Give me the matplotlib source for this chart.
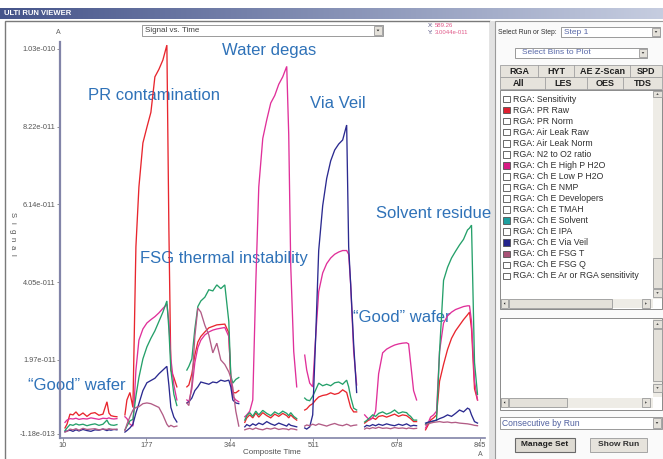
import numpy as np
import matplotlib
matplotlib.use('Agg')
import matplotlib.pyplot as plt
from matplotlib.patches import Rectangle, Polygon

plt.rcParams['font.family'] = ['Liberation Sans', 'DejaVu Sans']

# composite time at which each run starts, and sample offsets inside a run
run_start = [14, 134, 258, 374, 494, 614, 736]
offsets = [0, 4, 10, 16, 22, 28, 36, 44, 52, 60, 68, 76, 84, 88, 92, 98, 104]

# signal traces, units of 1e-12, one row per run
pr_raw = [
    [1.5, 2.5, 5.2, 5.0, 5.8, 4.8, 5.5, 4.6, 5.4, 5.6, 4.9, 5.2, 8.5, 5.5, 4.8, 4.6, 4.5],
    [5, 9, 11, 7, 50, 66, 77.8, 82, 86, 95.5, 97.5, 100, 104, 55, 17, 15, 12.5],
    [12.5, 13, 16, 21, 24.5, 26, 27.2, 28.3, 28.7, 29.1, 29.2, 29.3, 27, 14, 11, 10.9, 11.5],
    [3.0, 4.2, 5.0, 4.2, 5.5, 4.4, 5.6, 4.8, 4.2, 5.2, 4.6, 5.4, 4.8, 4.2, 5.0, 4.2, 3.6],
    [6.3, 6.6, 7.5, 8, 9, 9.8, 10.2, 10.4, 10.9, 10.5, 10.8, 11.7, 11, 9, 7, 5.8, 5.8],
    [2.8, 3.2, 3.8, 4.2, 3.8, 4.6, 4.8, 4.4, 4.8, 5.2, 4.6, 5.0, 4.8, 4.4, 4.0, 3.2, 3.2],
    [1.0, 2.0, 3.6, 4.2, 5, 14, 18.5, 22.5, 25.5, 27.5, 29, 30.5, 31.8, 32.5, 28, 12, 9],
]
high_p_h2o = [
    [3.0, 3.6, 4.0, 3.9, 4.1, 3.8, 4.0, 3.9, 4.2, 4.0, 3.8, 4.1, 4.0, 4.2, 4.0, 3.9, 4.0],
    [4.5, 4, 2.5, 2, 17, 25, 28, 29.6, 30.5, 31.3, 32.3, 33.5, 34.6, 30, 20, 13, 9],
    [9, 8.5, 12, 19, 23, 25, 26.4, 27.2, 27.7, 28, 28.2, 28.4, 26, 15.5, 10, 9, 8.5],
    [4.5, 5, 6, 9, 40, 66, 79, 84, 88.5, 90.5, 93.5, 95.5, 98.3, 80, 45, 22, 12.5],
    [21, 17, 13.5, 12.5, 26, 38, 43, 45.5, 47, 48, 48.6, 49, 49, 48, 40, 22, 13],
    [5, 4.4, 3.6, 4.2, 6, 16, 21.6, 22.6, 23.2, 23.7, 24, 24.2, 24.3, 24, 19, 11.5, 9],
    [1.5, 2.5, 4.4, 5, 6, 22, 29.6, 31.5, 32.5, 33.2, 33.6, 34, 34.2, 34.2, 30, 14, 9],
]
solvent = [
    [0.8, 1.5, 2.4, 2.2, 2.6, 2.3, 2.5, 2.1, 2.4, 2.6, 2.2, 2.5, 3.6, 2.6, 2.3, 2.2, 2.4],
    [1, 2, 3.4, 3.8, 10, 15, 20, 23.2, 25.5, 27.5, 30, 32.5, 35.5, 28, 17, 10.5, 7.5],
    [17, 18, 20, 28, 34, 35.5, 36.5, 38.5, 38.2, 39.8, 38.8, 39.8, 30, 15.5, 13.5, 14.5, 15],
    [3.6, 4.8, 5.6, 4.6, 6.0, 5.0, 6.2, 5.4, 4.8, 5.8, 5.2, 6.0, 5.4, 4.8, 5.6, 4.6, 4.0],
    [9.5, 9, 8.8, 10, 11.7, 13.5, 12.8, 13.2, 12.8, 13.6, 13.8, 13.2, 14.3, 12.5, 9.8, 6.8, 6.3],
    [3.1, 3.5, 4.2, 5.0, 4.6, 5.4, 5.8, 5.2, 5.6, 6.3, 5.4, 5.8, 5.6, 5.0, 4.6, 3.6, 3.6],
    [2.5, 2.9, 3.1, 3.3, 3.6, 22, 41, 44.5, 47, 48.8, 50.5, 52, 54.5, 55, 55.8, 19, 10.5],
]
via_veil = [
    [0.5, 0.7, 0.9, 0.6, 1.0, 0.7, 1.1, 0.8, 0.6, 1.0, 0.9, 1.2, 0.8, 1.0, 0.9, 1.1, 1.0],
    [0.4, 0.8, 1.5, 2.5, 5.5, 8, 11.5, 13.6, 14.2, 14.8, 16, 17, 18, 13, 7, 4.4, 3.1],
    [8.2, 8.5, 9.5, 11.5, 12.5, 13.8, 13.5, 13.2, 13.8, 13.6, 14.3, 14.0, 14.3, 12.5, 9.0, 8.2, 8],
    [1.8, 2.4, 2.0, 2.6, 2.2, 2.8, 2.4, 3.2, 2.6, 2.2, 2.8, 2.4, 2.0, 2.6, 2.2, 2.0, 1.8],
    [1.5, 1.2, 1.8, 5, 26, 49, 61, 68.3, 73, 75.9, 77.5, 78.6, 82.6, 50, 40, 24, 11],
    [1.8, 2.2, 2.0, 2.4, 2.1, 2.5, 2.2, 2.6, 2.3, 2.1, 2.5, 2.2, 2.6, 2.3, 2.0, 2.2, 2.1],
    [2.8, 3.0, 3.2, 3.4, 3.6, 4.0, 4.4, 5.0, 4.6, 5.4, 6.3, 5.8, 6.8, 6.5, 5.0, 3.2, 2.8],
]
fsg_t = [
    [0.4, 0.6, 1.2, 1.0, 1.3, 0.9, 1.4, 1.1, 1.2, 1.3, 1.0, 1.2, 1.1, 1.3, 1.2, 1.1, 1.2],
    [0.8, 2.5, 4.5, 6.3, 7, 7.2, 8, 8.2, 8, 7.5, 7, 5, 2.5, 1.8, 2.2, 1.8, 2],
    [8.2, 7.5, 13, 26, 33.6, 32.5, 29, 26.4, 21.6, 24.2, 19.7, 18.5, 16.5, 15, 12.3, 6, 2],
    [1.0, 1.2, 1.4, 1.1, 1.5, 1.2, 1.0, 1.4, 1.2, 1.5, 1.1, 1.3, 1.2, 1.0, 1.3, 1.2, 1.0],
    [2.0, 2.3, 2.1, 2.5, 2.2, 2.6, 2.3, 2.0, 2.4, 2.7, 2.3, 2.1, 2.5, 2.3, 2.0, 2.2, 2.3],
    [1.2, 1.5, 1.3, 1.6, 1.4, 1.7, 1.4, 1.5, 1.3, 1.6, 1.4, 1.5, 1.3, 1.5, 1.4, 1.3, 1.4],
    [2.3, 2.5, 2.8, 3.0, 3.1, 3.2, 3.0, 3.1, 2.9, 3.0, 2.8, 2.7, 2.6, 2.5, 2.4, 2.2, 2.1],
]

series = [pr_raw, high_p_h2o, solvent, via_veil, fsg_t]
line_colors = ['#e8262e', '#e0309a', '#25a06a', '#2b2a90', '#b25c86']

x_ticks = [10, 177, 344, 511, 678, 845]
y_ticks = [-0.118, 19.7, 40.5, 61.4, 82.2, 103.0]
y_tick_labels = ['-1.18e-013', '1.97e-011', '4.05e-011', '6.14e-011', '8.22e-011', '1.03e-010']

notes = [
    ('PR contamination', 88, 95),
    ('Water degas', 222, 51),
    ('Via Veil', 310, 103),
    ('Solvent residue', 376, 214),
    ('FSG thermal instability', 140, 258),
    ('\u201cGood\u201d wafer', 353, 318),
    ('\u201cGood\u201d wafer', 28, 385),
]

bins = ['RGA: Sensitivity', 'RGA: PR Raw', 'RGA: PR Norm', 'RGA: Air Leak Raw',
        'RGA: Air Leak Norm', 'RGA: N2 to O2 ratio', 'RGA: Ch E High P H2O',
        'RGA: Ch E Low P H2O', 'RGA: Ch E NMP', 'RGA: Ch E Developers',
        'RGA: Ch E TMAH', 'RGA: Ch E Solvent', 'RGA: Ch E IPA', 'RGA: Ch E Via Veil',
        'RGA: Ch E FSG T', 'RGA: Ch E FSG Q', 'RGA: Ch E Ar or RGA sensitivity']
checked = {1: '#e02030', 6: '#d81a84', 11: '#1ea0a0', 13: '#24248c', 14: '#a85276'}

tabs_top = [('RGA', 519), ('HYT', 556), ('AE Z-Scan', 602), ('SPD', 646)]
tabs_bottom = [('All', 519), ('LES', 563), ('OES', 605), ('TDS', 643)]

W, H = 663, 459
fig = plt.figure(figsize=(W / 100, H / 100), dpi=100)
fig.patch.set_facecolor('white')

# pixel-space layer for the window chrome
ui = fig.add_axes([0, 0, 1, 1])
ui.set_zorder(0)
ui.axis('off')


def box(x0, y0, x1, y1, fc='white', ec='#a0a0a0', lw=0.8, z=1):
    ui.add_patch(Rectangle((x0, y0), x1 - x0, y1 - y0, facecolor=fc,
                           edgecolor=ec, linewidth=lw, zorder=z))


def arrow(cx, cy, up=False, left=False, right=False, s=1.5):
    if left:
        pts = [[cx + s * 0.6, cy - s], [cx + s * 0.6, cy + s], [cx - s * 0.6, cy]]
    elif right:
        pts = [[cx - s * 0.6, cy - s], [cx - s * 0.6, cy + s], [cx + s * 0.6, cy]]
    elif up:
        pts = [[cx - s, cy + s * 0.6], [cx + s, cy + s * 0.6], [cx, cy - s * 0.6]]
    else:
        pts = [[cx - s, cy - s * 0.6], [cx + s, cy - s * 0.6], [cx, cy + s * 0.6]]
    ui.add_patch(Polygon(pts, closed=True, facecolor='#202020', edgecolor='none', zorder=6))


def button(x0, y0, x1, y1, z=4):
    box(x0, y0, x1, y1, fc='#e4e1da', ec='#9a9a9a', lw=0.6, z=z)


def txt(x, y, s, size=6.3, color='#303030', **kw):
    kw.setdefault('ha', 'left')
    kw.setdefault('va', 'center')
    ui.text(x, y, s, fontsize=size, color=color, zorder=7, **kw)


# title bar
grad = np.linspace(0, 1, 256).reshape(1, -1)
ui.imshow(grad, extent=(0, W, 19, 8), aspect='auto', zorder=2,
          cmap=matplotlib.colors.LinearSegmentedColormap.from_list('bar', ['#45548a', '#c6cde0']))
txt(4, 13.5, 'ULTI RUN VIEWER', size=5.5, color='white', weight='bold')

# panels
box(5, 21, 490, 470, fc='white', ec='#7a7a7a', lw=1.0, z=1)
box(490, 21, 495, 470, fc='#e2e2e2', ec='none', lw=0, z=1)
box(495, 21, 665, 470, fc='#fafafa', ec='#9a9a9a', lw=0.8, z=1)

# plot header widgets
box(142, 25, 383, 36, fc='white', ec='#8a8a8a', lw=0.6, z=3)
txt(145, 30.5, 'Signal vs. Time', size=5.8, color='#404040')
button(374, 26, 382, 35)
arrow(378, 30.5, s=1.4)
txt(428, 25.5, 'X:', size=4.3, color='#505080')
txt(435, 25.5, '589.26', size=4.3, color='#e05888')
txt(428, 33, 'Y:', size=4.3, color='#505080')
txt(435, 33, '3.0044e-011', size=4.3, color='#e05888')
txt(58, 33, 'A', size=5, color='#606060', ha='center')
txt(480, 454, 'A', size=5, color='#606060', ha='center')
txt(272, 452, 'Composite Time', size=5.8, color='#505050', ha='center')
for i, ch in enumerate('Signal'):
    txt(12, 215 + 8 * i, ch, size=5.5, color='#505050', ha='center', rotation=270)

for s, x, y in notes:
    txt(x, y, s, size=12, color='#2f72b8')

# right panel widgets
txt(498, 32, 'Select Run or Step:', size=4.9)
box(561, 27, 660, 37, fc='white', ec='#8a8a8a', lw=0.6, z=3)
txt(564, 32, 'Step 1', size=6.0, color='#5868a8')
button(652, 28, 660, 36)
arrow(656, 32, s=1.3)

box(515, 48, 647, 58, fc='white', ec='#8a8a8a', lw=0.6, z=3)
txt(522, 53, 'Select Bins to Plot', size=6.0, color='#5868a8')
button(639, 49, 647, 57)
arrow(643, 53, s=1.3)

box(500, 65, 662, 77, fc='#e6e3dc', ec='#a0a0a0', lw=0.6, z=3)
box(500, 77, 662, 89, fc='#e6e3dc', ec='#a0a0a0', lw=0.6, z=3)
for xs, yy in (([538, 574, 630], (65, 77)), ([545, 587, 623], (77, 89))):
    for xv in xs:
        ui.plot([xv, xv], yy, color='#a0a0a0', lw=0.6, zorder=4)
for s, x in tabs_top:
    txt(x, 71, s, size=6.5, color='#202020', ha='center', weight='bold')
for s, x in tabs_bottom:
    txt(x, 83, s, size=6.5, color='#202020', ha='center', weight='bold')

# bin list box
box(500, 90, 662, 309, fc='white', ec='#8a8a8a', lw=0.7, z=3)
for i, name in enumerate(bins):
    yy = 99 + 11.06 * i
    box(503, yy - 3.3, 510, yy + 3.3, fc=checked.get(i, 'white'), ec='#505050', lw=0.6, z=4)
    txt(513, yy, name, size=6.3)
box(653, 91, 662, 299, fc='#eeece6', ec='none', lw=0, z=4)
button(653, 91, 662, 97)
arrow(657.5, 94, up=True, s=1.2)
button(653, 258, 662, 288)
button(653, 289, 662, 297)
arrow(657.5, 293, s=1.2)
box(501, 299, 653, 308, fc='#eeece6', ec='none', lw=0, z=4)
button(501, 299, 508, 308)
arrow(504.5, 303.5, left=True, s=1.2)
button(509, 299, 612, 308)
button(642, 299, 650, 308)
arrow(646, 303.5, right=True, s=1.2)

# second list box
box(500, 318, 662, 410, fc='white', ec='#8a8a8a', lw=0.7, z=3)
box(653, 319, 662, 397, fc='#eeece6', ec='none', lw=0, z=4)
button(653, 320, 662, 328)
arrow(657.5, 324, up=True, s=1.2)
button(653, 329, 662, 381)
button(653, 384, 662, 392)
arrow(657.5, 388, s=1.2)
box(501, 398, 653, 408, fc='#eeece6', ec='none', lw=0, z=4)
button(501, 398, 508, 407)
arrow(504.5, 402.5, left=True, s=1.2)
button(509, 398, 567, 407)
button(642, 398, 650, 407)
arrow(646, 402.5, right=True, s=1.2)

box(500, 417, 662, 429, fc='white', ec='#8a8a8a', lw=0.6, z=3)
txt(502, 423, 'Consecutive by Run', size=6.2, color='#5060a0')
button(653, 418, 661, 428)
arrow(657, 423, s=1.3)

box(515, 438, 575, 452, fc='#dedbd3', ec='#6a6a6a', lw=0.8, z=3)
txt(545, 445, 'Manage Set', size=6.0, color='#202020', ha='center', weight='bold')
box(590, 438, 647, 452, fc='#e6e3dc', ec='#9a9a9a', lw=0.6, z=3)
txt(618.5, 445, 'Show Run', size=6.0, color='#303030', ha='center', weight='bold')

ui.set_xlim(0, W)
ui.set_ylim(H, 0)

# signal plot
ax = fig.add_axes([60 / W, (H - 438) / H, 425 / W, 396 / H])
ax.set_zorder(2)
ax.patch.set_alpha(0)
for trace, color in zip(series, line_colors):
    for start, vals in zip(run_start, trace):
        ax.plot([start + o for o in offsets], vals, color=color, lw=0.95,
                solid_joinstyle='miter')
ax.set_xlim(4.0, 855.0)
ax.set_ylim(-1.189, 104.83)
ax.set_xticks(x_ticks)
ax.set_xticklabels([str(v) for v in x_ticks])
ax.set_yticks(y_ticks)
ax.set_yticklabels(y_tick_labels)
for side in ('top', 'right'):
    ax.spines[side].set_visible(False)
ax.spines['left'].set_color('#8284a8')
ax.spines['left'].set_linewidth(1.6)
ax.spines['bottom'].set_color('#8284a8')
ax.spines['bottom'].set_linewidth(1.2)
ax.tick_params(length=2, width=0.6, color='#808080', labelsize=5.3,
               labelcolor='#555555', pad=1)

fig.savefig('out.png', dpi=100)
